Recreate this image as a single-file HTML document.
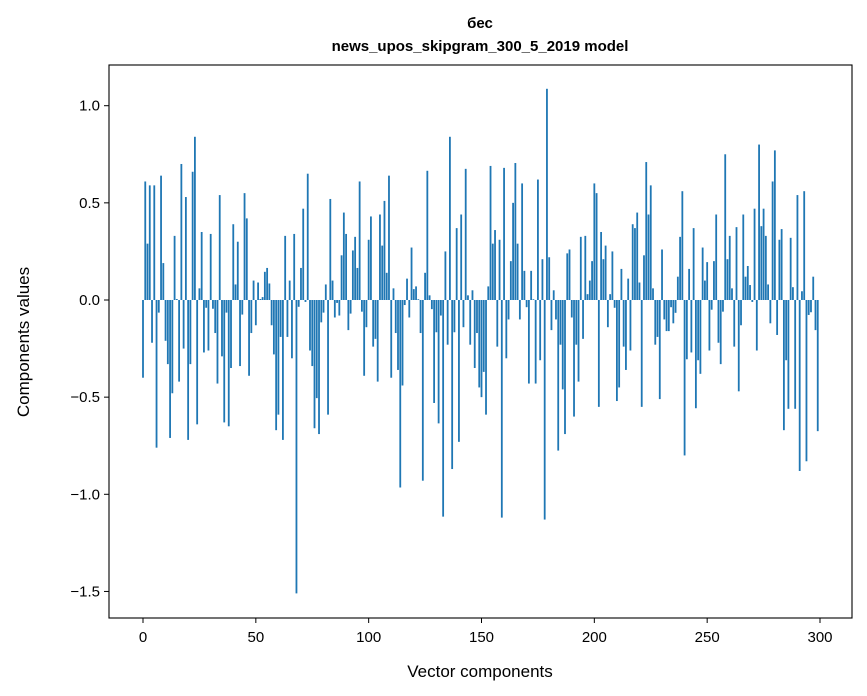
<!DOCTYPE html>
<html><head><meta charset="utf-8"><style>
body{margin:0;background:#fff;}
svg{display:block;font-family:"Liberation Sans","DejaVu Sans",sans-serif;}
</style></head><body>
<svg id="chart" width="867" height="696" viewBox="0 0 867 696" xmlns="http://www.w3.org/2000/svg">
<rect width="867" height="696" fill="#fff"/>
<text x="480" y="28" text-anchor="middle" font-size="15" font-weight="bold">бес</text>
<text x="480" y="51" text-anchor="middle" font-size="15" font-weight="bold">news_upos_skipgram_300_5_2019 model</text>
<g id="bars"></g>
<g id="axes"></g>
<text x="480" y="677" text-anchor="middle" font-size="17">Vector components</text>
<text transform="translate(29,342) rotate(-90)" text-anchor="middle" font-size="17">Components values</text>
</svg>
<script>
const values = [
-0.40,0.61,0.29,0.59,-0.22,0.59,-0.76,-0.065,0.64,0.19,
-0.21,-0.33,-0.71,-0.48,0.33,0.005,-0.42,0.70,-0.25,0.53,
-0.72,-0.33,0.66,0.84,-0.64,0.06,0.35,-0.27,-0.04,-0.26,
0.34,-0.045,-0.17,-0.43,0.54,-0.29,-0.63,-0.065,-0.65,-0.35,
0.39,0.08,0.30,-0.34,-0.075,0.55,0.42,-0.39,
-0.17,0.10,-0.13,0.09,0.005,0.015,0.145,0.165,0.085,-0.13,
-0.28,-0.67,-0.59,-0.19,-0.72,0.33,-0.19,0.10,-0.30,0.34,
-1.51,-0.035,0.165,0.47,-0.01,0.65,-0.26,-0.34,-0.66,-0.505,
-0.69,-0.115,-0.065,0.08,-0.59,0.52,0.10,-0.09,-0.015,-0.08,
0.23,0.45,0.34,-0.155,-0.07,0.255,0.325,0.165,0.61,-0.06,
-0.39,-0.14,0.31,0.43,-0.24,-0.20,-0.42,0.44,0.28,0.51,
0.14,0.64,-0.40,0.06,-0.17,-0.36,-0.965,-0.44,-0.026,0.11,
-0.09,0.27,0.056,0.07,0.004,-0.17,-0.93,0.14,0.665,0.024,
-0.047,-0.53,-0.166,-0.635,-0.08,-1.115,0.25,-0.23,0.84,-0.87,
-0.166,0.37,-0.73,0.44,-0.14,0.675,0.024,-0.23,0.05,
-0.35,-0.17,-0.45,-0.50,-0.37,-0.59,0.07,0.69,0.29,0.36,
-0.24,0.31,-1.12,0.68,-0.30,-0.10,0.20,0.50,0.705,0.29,
-0.10,0.60,0.15,-0.037,-0.43,0.15,0.004,-0.43,0.62,-0.31,
0.21,-1.13,1.087,0.22,-0.155,0.05,-0.10,-0.775,-0.23,-0.46,
-0.69,0.24,0.26,-0.09,-0.60,-0.23,-0.42,0.325,-0.20,0.33,
0.03,0.10,0.20,0.60,0.55,-0.55,0.35,0.21,0.28,-0.14,
0.03,0.25,-0.04,-0.52,-0.45,0.16,-0.24,-0.36,0.11,-0.26,
0.39,0.37,0.45,0.09,-0.55,0.23,0.71,0.44,0.59,0.06,
-0.23,-0.19,-0.51,0.26,-0.10,-0.16,-0.16,-0.037,-0.12,-0.066,
0.12,0.325,0.56,-0.80,-0.305,0.16,-0.27,0.37,-0.557,
-0.31,-0.38,0.27,0.10,0.195,-0.26,-0.05,0.20,0.44,-0.22,
-0.33,-0.06,0.75,0.21,0.33,0.06,-0.24,0.375,-0.47,-0.13,
0.44,0.12,0.175,0.077,-0.01,0.47,-0.26,0.80,0.38,0.47,
0.33,0.08,-0.12,0.61,0.77,-0.18,0.31,0.365,-0.67,-0.31,
-0.56,0.32,0.066,-0.56,0.54,-0.88,0.045,0.56,-0.83,-0.077,
-0.063,0.12,-0.155,-0.675
];
const xTicks = [0,50,100,150,200,250,300];
const yTicks = [-1.5,-1.0,-0.5,0.0,0.5,1.0];
const yTickLabels = ["\u22121.5","\u22121.0","\u22120.5","0.0","0.5","1.0"];

const NS="http://www.w3.org/2000/svg";
const plot={l:109,r:852,t:65,b:618};
function xs(v){return 143+v*(820-143)/300;}
function ys(v){return 300-v*194.3;}
const bars=document.getElementById('bars');
const bw=0.8*(820-143)/300;
values.forEach((v,i)=>{
  const r=document.createElementNS(NS,'rect');
  const y0=ys(0), y1=ys(v);
  r.setAttribute('x',xs(i)-bw/2);
  r.setAttribute('y',Math.min(y0,y1));
  r.setAttribute('width',bw);
  r.setAttribute('height',Math.max(Math.abs(y1-y0),0.3));
  r.setAttribute('fill','#1f77b4');
  
  
  bars.appendChild(r);
});
const axes=document.getElementById('axes');
const frame=document.createElementNS(NS,'rect');
frame.setAttribute('x',plot.l);frame.setAttribute('y',plot.t);
frame.setAttribute('width',plot.r-plot.l);frame.setAttribute('height',plot.b-plot.t);
frame.setAttribute('fill','none');frame.setAttribute('stroke','#000');frame.setAttribute('stroke-width','1.1');


axes.appendChild(frame);
xTicks.forEach(t=>{
  const x=xs(t);
  const l=document.createElementNS(NS,'line');
  l.setAttribute('x1',x);l.setAttribute('x2',x);l.setAttribute('y1',plot.b);l.setAttribute('y2',plot.b+5);
  l.setAttribute('stroke','#000');
  
  
  axes.appendChild(l);
  const tx=document.createElementNS(NS,'text');
  tx.setAttribute('x',x);tx.setAttribute('y',plot.b+24);tx.setAttribute('text-anchor','middle');tx.setAttribute('font-size','15');
  tx.textContent=t;
  
  
  axes.appendChild(tx);
});
yTicks.forEach((t,k)=>{
  const y=ys(t);
  const l=document.createElementNS(NS,'line');
  l.setAttribute('x1',plot.l-5);l.setAttribute('x2',plot.l);l.setAttribute('y1',y);l.setAttribute('y2',y);
  l.setAttribute('stroke','#000');
  
  
  axes.appendChild(l);
  const tx=document.createElementNS(NS,'text');
  tx.setAttribute('x',plot.l-9);tx.setAttribute('y',y+5);tx.setAttribute('text-anchor','end');tx.setAttribute('font-size','15');
  tx.textContent=yTickLabels[k];
  
  
  axes.appendChild(tx);
});
</script>
</body></html>
